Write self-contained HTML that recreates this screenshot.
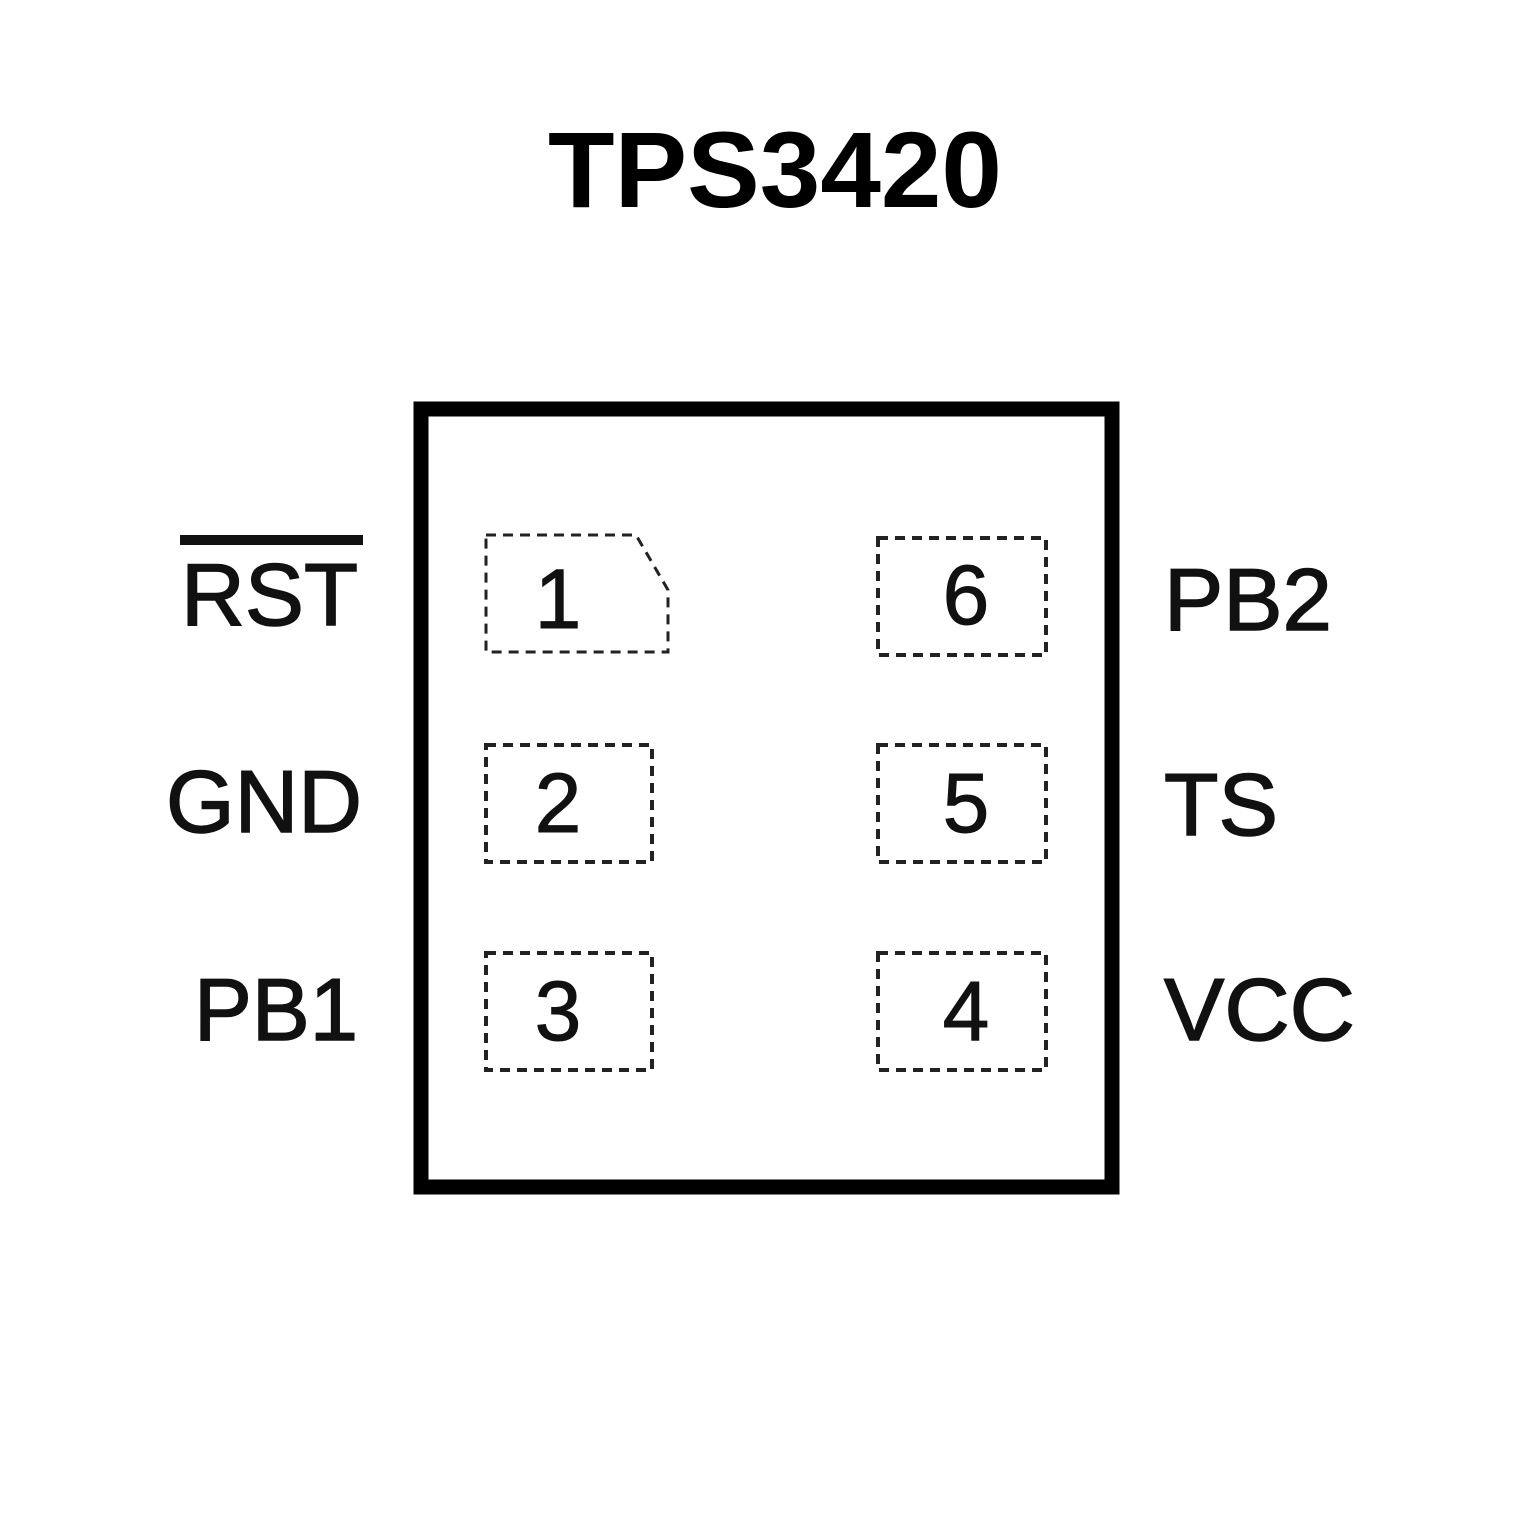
<!DOCTYPE html>
<html><head><style>html,body{margin:0;padding:0;background:#fff}</style></head><body>
<svg width="1535" height="1535" viewBox="0 0 1535 1535" xmlns="http://www.w3.org/2000/svg">
<rect width="1535" height="1535" fill="#fff"/>
<text x="548" y="207" textLength="454" lengthAdjust="spacingAndGlyphs" font-family="'Liberation Sans', sans-serif" font-weight="bold" font-size="108" fill="#000">TPS3420</text>
<rect x="421" y="409" width="691" height="778" fill="none" stroke="#000" stroke-width="15"/>
<g fill="none" stroke="#222" stroke-width="4" stroke-dasharray="10,7">
<path d="M486 535 H636 L668 590 V652 H486 Z" stroke-width="3"/>
<rect x="878" y="538" width="168" height="117"/>
<rect x="486" y="745" width="166" height="117"/>
<rect x="878" y="745" width="168" height="117"/>
<rect x="486" y="953" width="166" height="117"/>
<rect x="878" y="953" width="168" height="117"/>
</g>
<g font-family="'Liberation Sans', sans-serif" font-size="84" fill="#111" text-anchor="middle" stroke="#111" stroke-width="1">
<text x="558" y="628">1</text>
<text x="966" y="624">6</text>
<text x="558" y="832">2</text>
<text x="966" y="832">5</text>
<text x="558" y="1040">3</text>
<text x="966" y="1040">4</text>
</g>
<g font-family="'Liberation Sans', sans-serif" font-size="88" fill="#111" stroke="#111" stroke-width="1.5" lengthAdjust="spacingAndGlyphs">
<text x="181" y="625" textLength="177" lengthAdjust="spacingAndGlyphs">RST</text>
<text x="166" y="832" textLength="196" lengthAdjust="spacingAndGlyphs">GND</text>
<text x="194" y="1040" textLength="164" lengthAdjust="spacingAndGlyphs">PB1</text>
<text x="1164" y="630" textLength="168" lengthAdjust="spacingAndGlyphs">PB2</text>
<text x="1164" y="835" textLength="114" lengthAdjust="spacingAndGlyphs">TS</text>
<text x="1164" y="1040" textLength="191" lengthAdjust="spacingAndGlyphs">VCC</text>
</g>
<rect x="180" y="535" width="183" height="10" fill="#111"/>
</svg>
</body></html>
